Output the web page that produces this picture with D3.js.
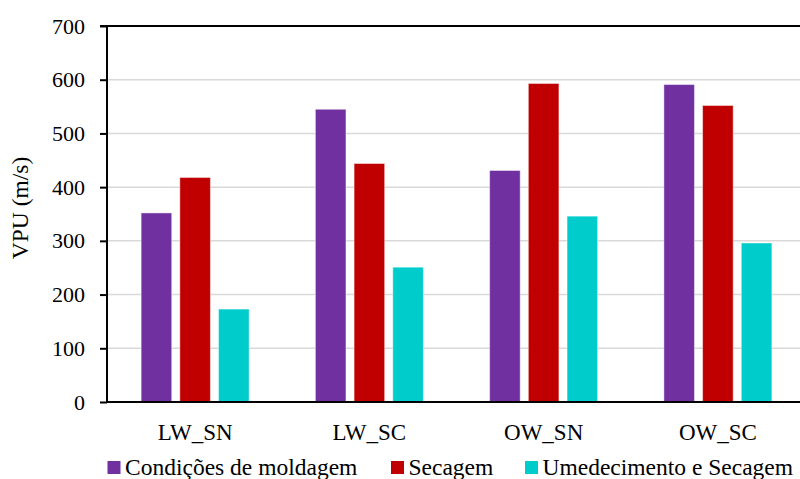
<!DOCTYPE html>
<html>
<head>
<meta charset="utf-8">
<script src="https://cdn.jsdelivr.net/npm/d3@7"></script>
<style>
  body { margin: 0; background: #fff; }
  svg text { font-family: "Liberation Serif", "Times New Roman", Times, "DejaVu Serif", serif; fill: #000; }
</style>
</head>
<body>
<svg width="800" height="479"></svg>
<script>
var categories = ["LW_SN", "LW_SC", "OW_SN", "OW_SC"];
var seriesNames = ["Condições de moldagem", "Secagem", "Umedecimento e Secagem"];
var seriesColors = ["#7030a0", "#c00000", "#00cccc"];
var moldagem = [352, 545, 431, 591];
var secagem = [418, 444, 593, 552];
var umedecimento = [173, 251, 346, 296];
var yTicks = [0, 100, 200, 300, 400, 500, 600, 700];

var values = [moldagem, secagem, umedecimento];

var svg = d3.select("svg");
var width = +svg.attr("width");
var height = +svg.attr("height");
var plotLeft = 107, plotTop = 26, plotBottom = 402;

var x = d3.scaleBand()
    .domain(categories)
    .range([108, 805]);

var xInner = d3.scaleBand()
    .domain(d3.range(seriesNames.length))
    .range([0, 108])
    .paddingInner(0.21);

var y = d3.scaleLinear()
    .domain([0, 700])
    .range([plotBottom, plotTop]);

// gridlines
svg.append("g")
    .selectAll("line")
    .data(yTicks.slice(1, -1))
    .enter()
    .append("line")
    .attr("x1", plotLeft)
    .attr("x2", width)
    .attr("y1", function(d) { return y(d); })
    .attr("y2", function(d) { return y(d); })
    .attr("stroke", "#d9d9d9")
    .attr("stroke-width", 1.5);

// bars
var groups = svg.append("g")
    .selectAll("g")
    .data(categories)
    .enter()
    .append("g")
    .attr("transform", function(d) {
        return "translate(" + (x(d) + x.bandwidth() / 2 - 54) + ",0)";
    });

groups.selectAll("rect")
    .data(function(d, i) {
        return values.map(function(v, s) { return {s: s, v: v[i]}; });
    })
    .enter()
    .append("rect")
    .attr("x", function(d) { return xInner(d.s); })
    .attr("width", xInner.bandwidth())
    .attr("y", function(d) { return y(d.v); })
    .attr("height", function(d) { return y(0) - y(d.v); })
    .attr("fill", function(d) { return seriesColors[d.s]; })
    .attr("stroke", "rgba(255,255,255,0.45)")
    .attr("stroke-width", 1);

// y axis
var yAxis = svg.append("g")
    .attr("transform", "translate(" + plotLeft + ",0)")
    .call(d3.axisLeft(y).tickValues(yTicks).tickSize(7).tickPadding(15));
yAxis.select(".domain").attr("stroke", "#000").attr("stroke-width", 2)
    .attr("d", "M0," + y(0) + "V" + y(700));
yAxis.selectAll(".tick line").attr("stroke", "#000").attr("stroke-width", 2);
yAxis.selectAll("text").style("font-size", "22px");

// top border line
svg.append("line")
    .attr("x1", plotLeft - 7)
    .attr("x2", width)
    .attr("y1", y(700))
    .attr("y2", y(700))
    .attr("stroke", "#000")
    .attr("stroke-width", 2);

// x axis
var xAxis = svg.append("g")
    .attr("transform", "translate(0," + y(0) + ")")
    .call(d3.axisBottom(x).tickSize(0).tickPadding(21.5));
xAxis.select(".domain").attr("stroke", "#000").attr("stroke-width", 2)
    .attr("d", "M" + plotLeft + ",0H" + width);
xAxis.selectAll("text").style("font-size", "23px");

// y label
svg.append("text")
    .attr("transform", "translate(28,208) rotate(-90)")
    .attr("text-anchor", "middle")
    .style("font-size", "23.5px")
    .text("VPU (m/s)");

// legend
var legendX = [107.5, 391, 525];
var legend = svg.append("g")
    .selectAll("g")
    .data(seriesNames)
    .enter()
    .append("g")
    .attr("transform", function(d, i) { return "translate(" + legendX[i] + ",461)"; });
legend.append("rect")
    .attr("width", 13)
    .attr("height", 13)
    .attr("fill", function(d, i) { return seriesColors[i]; });
legend.append("text")
    .attr("x", 17.5)
    .attr("y", 14)
    .style("font-size", "23.5px")
    .text(function(d) { return d; });
</script>
</body>
</html>
